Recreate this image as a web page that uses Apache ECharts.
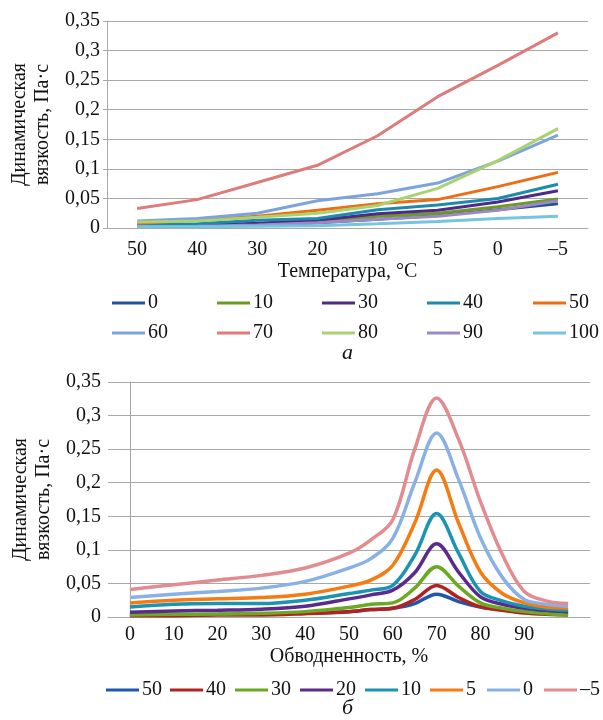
<!DOCTYPE html>
<html>
<head>
<meta charset="utf-8">
<script src="https://cdn.jsdelivr.net/npm/echarts@6/dist/echarts.min.js"></script>
<style>
  html, body { margin: 0; padding: 0; background: #fff; }
  #chart { width: 603px; height: 720px; }
</style>
</head>
<body>
<div id="chart"></div>
<script>
// верхний график: вязкость от температуры при разной обводненности
const tempCats = ['50', '40', '30', '20', '10', '5', '0', '–5'];
const topNames = ['0', '10', '30', '40', '50', '60', '70', '80', '90', '100'];
const w0 = [0.005, 0.005, 0.006, 0.009, 0.015, 0.021, 0.031, 0.041];
const w10 = [0.003, 0.004, 0.007, 0.011, 0.020, 0.025, 0.036, 0.049];
const w30 = [0.004, 0.005, 0.008, 0.013, 0.024, 0.030, 0.044, 0.063];
const w40 = [0.005, 0.007, 0.013, 0.016, 0.031, 0.039, 0.050, 0.074];
const w50 = [0.008, 0.013, 0.020, 0.030, 0.041, 0.048, 0.070, 0.094];
const w60 = [0.012, 0.016, 0.025, 0.046, 0.058, 0.076, 0.113, 0.157];
const w70 = [0.033, 0.048, 0.077, 0.106, 0.156, 0.222, 0.275, 0.330];
const w80 = [0.010, 0.012, 0.018, 0.025, 0.038, 0.067, 0.114, 0.168];
const w90 = [0.002, 0.003, 0.005, 0.009, 0.015, 0.020, 0.030, 0.046];
const w100 = [0.002, 0.002, 0.003, 0.004, 0.007, 0.011, 0.016, 0.020];
const topColors = ['#22509e', '#6b9b26', '#4d2b86', '#1b8aac', '#f06c12',
                   '#7da3dc', '#de7b7b', '#aad270', '#9d88c1', '#74c5e1'];

// нижний график: вязкость от обводненности при разной температуре
const cutLabels = ['0', '10', '20', '30', '40', '50', '60', '70', '80', '90', ''];
const cutX = [0, 10, 20, 30, 40, 50, 55, 60, 65, 70, 75, 80, 85, 90, 95, 100];
const botNames = ['50', '40', '30', '20', '10', '5', '0', '–5'];
const b50 = [0.003, 0.003, 0.004, 0.004, 0.006, 0.008, 0.011, 0.013, 0.020, 0.034, 0.023, 0.015, 0.011, 0.007, 0.007, 0.006];
const b40 = [0.002, 0.002, 0.003, 0.003, 0.005, 0.008, 0.011, 0.013, 0.026, 0.047, 0.029, 0.015, 0.010, 0.006, 0.004, 0.003];
const b30 = [0.003, 0.004, 0.0045, 0.0055, 0.008, 0.014, 0.019, 0.021, 0.043, 0.075, 0.046, 0.021, 0.013, 0.008, 0.005, 0.003];
const b20 = [0.007, 0.009, 0.010, 0.0115, 0.016, 0.027, 0.033, 0.040, 0.066, 0.109, 0.067, 0.030, 0.019, 0.013, 0.010, 0.008];
const b10 = [0.015, 0.019, 0.020, 0.020, 0.025, 0.035, 0.040, 0.047, 0.092, 0.154, 0.095, 0.038, 0.024, 0.016, 0.012, 0.010];
const b5 = [0.021, 0.025, 0.027, 0.029, 0.034, 0.046, 0.055, 0.077, 0.140, 0.219, 0.140, 0.067, 0.035, 0.021, 0.015, 0.013];
const b0 = [0.029, 0.034, 0.038, 0.043, 0.053, 0.073, 0.087, 0.117, 0.200, 0.274, 0.205, 0.118, 0.059, 0.026, 0.019, 0.016];
const bm5 = [0.041, 0.048, 0.055, 0.062, 0.073, 0.095, 0.115, 0.145, 0.250, 0.326, 0.265, 0.172, 0.093, 0.038, 0.024, 0.020];
const botColors = ['#1f56b0', '#b22222', '#6aaa22', '#5a2b8c', '#1b93b3',
                   '#f57b12', '#8ab1e6', '#e28b91'];

const topData = [w0, w10, w30, w40, w50, w60, w70, w80, w90, w100];
const botData = [b50, b40, b30, b20, b10, b5, b0, bm5];

// позиции значков легенды (левый край, px)
const topLegendX = [107, 212, 317, 422, 528];
const botLegendX = [101, 165, 230, 295, 360, 425, 482, 539];

const FONT = "'Liberation Serif', serif";
const gridColor = '#a8a8a8';

function fmtY(v) {
    return v === 0 ? '0' : String(+v.toFixed(2)).replace('.', ',');
}

function yAxisOf(gridIndex) {
    return {
        type: 'value',
        gridIndex,
        min: 0,
        max: 0.35,
        interval: 0.05,
        name: 'Динамическая\nвязкость, Па·с',
        nameLocation: 'middle',
        nameRotate: 90,
        nameGap: 45,
        nameTextStyle: {fontFamily: FONT, fontSize: 20, color: '#111', lineHeight: 23},
        axisLine: {show: true, lineStyle: {color: gridColor}},
        axisTick: {show: true, length: 4, lineStyle: {color: gridColor}},
        axisLabel: {fontFamily: FONT, fontSize: 20, color: '#111', margin: 7, formatter: fmtY},
        splitLine: {lineStyle: {color: gridColor, width: 1}}
    };
}

function xAxisOf(gridIndex, cats, name, margin, nameGap) {
    return {
        type: 'category',
        gridIndex,
        data: cats,
        boundaryGap: true,
        name,
        nameLocation: 'middle',
        nameGap,
        nameTextStyle: {fontFamily: FONT, fontSize: 20, color: '#111'},
        axisLine: {lineStyle: {color: gridColor}},
        axisTick: {length: 5, lineStyle: {color: gridColor}},
        axisLabel: {fontFamily: FONT, fontSize: 20, color: '#111', margin, interval: 0}
    };
}

const series = [];
topNames.forEach((n, i) => {
    series.push({
        name: n,
        type: 'line',
        xAxisIndex: 0,
        yAxisIndex: 0,
        data: topData[i],
        symbol: 'none',
        lineStyle: {width: 3, color: topColors[i]},
        itemStyle: {color: topColors[i]}
    });
});
botNames.forEach((n, i) => {
    series.push({
        name: 'b' + n,
        type: 'line',
        xAxisIndex: 2,
        yAxisIndex: 1,
        data: cutX.map((x, k) => [x, botData[i][k]]),
        smooth: 0.35,
        symbol: 'none',
        lineStyle: {width: 3.5, color: botColors[i]},
        itemStyle: {color: botColors[i]}
    });
});

function legendItem(name, left, top) {
    return {
        data: [name], left, top, icon: 'rect',
        itemWidth: 33, itemHeight: 3, itemGap: 0,
        formatter: n => n.charAt(0) === 'b' ? n.slice(1) : n,
        textStyle: {fontFamily: FONT, fontSize: 20, color: '#111', padding: [0, 0, 0, -2]},
        selectedMode: false
    };
}

const legends = [];
topNames.forEach((n, i) => {
    legends.push(legendItem(n, topLegendX[i % 5], i < 5 ? 288 : 318));
});
botNames.forEach((n, i) => {
    legends.push(legendItem('b' + n, botLegendX[i], 675));
});

const option = {
    animation: false,
    backgroundColor: '#fff',
    grid: [
        {left: 107, top: 21, width: 481, height: 207},
        {left: 108, top: 382, width: 482, height: 235}
    ],
    xAxis: [
        xAxisOf(0, tempCats, 'Температура, °C', 12, 34),
        xAxisOf(1, cutLabels, 'Обводненность, %', 8, 30),
        {type: 'value', gridIndex: 1, min: -5, max: 105, show: false}
    ],
    yAxis: [yAxisOf(0), yAxisOf(1)],
    legend: legends,
    graphic: [
        {type: 'text', left: 342, top: 342,
         style: {text: 'а', font: 'italic 22px Liberation Serif', fill: '#111'}},
        {type: 'text', left: 342, top: 697,
         style: {text: 'б', font: 'italic 22px Liberation Serif', fill: '#111'}}
    ],
    series
};

const chart = echarts.init(document.getElementById('chart'));
chart.setOption(option);
</script>
</body>
</html>
